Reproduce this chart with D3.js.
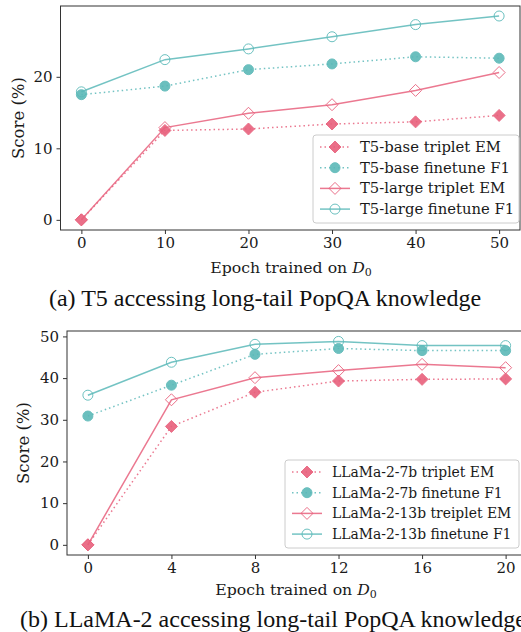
<!DOCTYPE html>
<html>
<head>
<meta charset="utf-8">
<script src="https://cdn.jsdelivr.net/npm/d3@7"></script>
<style>
  body { margin: 0; background: #fff; }
  svg { display: block; }
</style>
</head>
<body>
<div id="chart"></div>
<script>
// 数据: 上图 T5
const t5Epochs = [0, 10, 20, 30, 40, 50];
const t5BaseEM = [0, 12.5, 12.7, 13.4, 13.7, 14.6];
const t5BaseF1 = [17.5, 18.7, 21.0, 21.8, 22.8, 22.6];
const t5LargeEM = [0, 12.9, 14.9, 16.1, 18.1, 20.6];
const t5LargeF1 = [17.9, 22.4, 23.9, 25.6, 27.3, 28.5];
const t5Ticks = [0, 10, 20];
const t5Names = ['T5-base triplet EM', 'T5-base finetune F1', 'T5-large triplet EM', 'T5-large finetune F1'];

// 数据: 下图 LLaMA-2
const llEpochs = [0, 4, 8, 12, 16, 20];
const ll7EM = [0, 28.4, 36.6, 39.3, 39.7, 39.8];
const ll7F1 = [30.9, 38.3, 45.7, 47.1, 46.6, 46.6];
const ll13EM = [0, 34.8, 40.1, 41.8, 43.3, 42.5];
const ll13F1 = [35.9, 43.8, 48.1, 48.8, 47.8, 47.8];
const llTicks = [0, 10, 20, 30, 40, 50];
const llNames = ['LLaMa-2-7b triplet EM', 'LLaMa-2-7b finetune F1', 'LLaMa-2-13b treiplet EM', 'LLaMa-2-13b finetune F1'];

const PINK = '#e8607c';
const TEAL = '#5bb9b8';
const SERIF = '"DejaVu Serif", serif';

const svg = d3.select('#chart').append('svg')
  .attr('width', 521).attr('height', 632);

// 四条线的样式
const styles = [
  {color: PINK, dash: '1.5,3', marker: 'diamond', filled: true},
  {color: TEAL, dash: '1.5,3', marker: 'circle', filled: true},
  {color: PINK, dash: null, marker: 'diamond', filled: false},
  {color: TEAL, dash: null, marker: 'circle', filled: false}
];

const drawMarker = (g, st, x, y) => {
  if (st.marker === 'circle') {
    g.append('circle')
      .attr('cx', x).attr('cy', y).attr('r', 5)
      .attr('fill', st.filled ? st.color : 'none')
      .attr('stroke', st.color).attr('stroke-width', 1)
      .attr('opacity', 0.9);
  } else {
    const s = 6;
    g.append('path')
      .attr('d', `M${x},${y - s}L${x + s},${y}L${x},${y + s}L${x - s},${y}Z`)
      .attr('fill', st.filled ? st.color : 'none')
      .attr('stroke', st.color).attr('stroke-width', 1)
      .attr('opacity', 0.9);
  }
};

const drawPanel = (cfg) => {
  const g = svg.append('g');
  const x = d3.scaleLinear().domain(cfg.xDomain).range([cfg.left, cfg.right]);
  const y = d3.scaleLinear().domain(cfg.yDomain).range([cfg.bottom, cfg.top]);

  // 线和点
  cfg.series.forEach((vals, i) => {
    const st = styles[i];
    const line = d3.line().x((d, j) => x(cfg.epochs[j])).y(d => y(d));
    g.append('path')
      .attr('d', line(vals))
      .attr('fill', 'none')
      .attr('stroke', st.color)
      .attr('stroke-width', 1.5)
      .attr('stroke-opacity', 0.85)
      .attr('stroke-dasharray', st.dash);
    vals.forEach((v, j) => drawMarker(g, st, x(cfg.epochs[j]), y(v)));
  });

  // 坐标轴
  const xAxis = g.append('g')
    .attr('transform', `translate(0,${cfg.bottom})`)
    .call(d3.axisBottom(x).tickValues(cfg.epochs).tickSize(4).tickPadding(3));
  const yAxis = g.append('g')
    .attr('transform', `translate(${cfg.left},0)`)
    .call(d3.axisLeft(y).tickValues(cfg.yTicks).tickSize(4).tickPadding(4));
  [xAxis, yAxis].forEach(a => {
    a.select('.domain').remove();
    a.selectAll('text').attr('font-family', SERIF).attr('font-size', 15).attr('fill', '#1a1a1a');
    a.selectAll('line').attr('stroke', '#333');
  });

  // 边框
  g.append('rect')
    .attr('x', cfg.left).attr('y', cfg.top)
    .attr('width', cfg.right - cfg.left).attr('height', cfg.bottom - cfg.top)
    .attr('fill', 'none').attr('stroke', '#333').attr('stroke-width', 1);

  // 轴标题
  g.append('text')
    .attr('transform', `translate(${cfg.yLabelX},${(cfg.top + cfg.bottom) / 2}) rotate(-90)`)
    .attr('text-anchor', 'middle')
    .attr('font-family', SERIF).attr('font-size', 16.5).attr('fill', '#1a1a1a')
    .text('Score (%)');
  const xl = g.append('text')
    .attr('x', cfg.xLabelX).attr('y', cfg.xLabelY)
    .attr('text-anchor', 'middle')
    .attr('font-family', SERIF).attr('font-size', 15.7).attr('fill', '#1a1a1a');
  xl.append('tspan').text('Epoch trained on ');
  xl.append('tspan').attr('font-style', 'italic').text('D');
  xl.append('tspan').attr('font-size', 11).attr('dy', 3).text('0');

  // 图例
  const lg = g.append('g');
  lg.append('rect')
    .attr('x', cfg.legend.x).attr('y', cfg.legend.y)
    .attr('width', cfg.legend.w).attr('height', cfg.legend.h)
    .attr('rx', 3)
    .attr('fill', '#fff').attr('fill-opacity', 0.85)
    .attr('stroke', '#ccc').attr('stroke-width', 1);
  cfg.names.forEach((name, i) => {
    const st = styles[i];
    const yy = cfg.legend.y + 12 + i * 20.7;
    const x0 = cfg.legend.x + 7;
    lg.append('line')
      .attr('x1', x0).attr('x2', x0 + 30)
      .attr('y1', yy).attr('y2', yy)
      .attr('stroke', st.color).attr('stroke-width', 1.5)
      .attr('stroke-opacity', 0.85)
      .attr('stroke-dasharray', st.dash);
    drawMarker(lg, st, x0 + 15, yy);
    lg.append('text')
      .attr('x', x0 + 40).attr('y', yy + 5)
      .attr('font-family', SERIF).attr('font-size', cfg.legend.fs).attr('fill', '#1a1a1a')
      .text(name);
  });

  // 子图标题
  svg.append('text')
    .attr('x', cfg.capX).attr('y', cfg.capY)
    .attr('text-anchor', cfg.capAnchor)
    .attr('font-family', '"Liberation Serif", "Times New Roman", serif')
    .attr('font-size', 24).attr('fill', '#111')
    .text(cfg.caption);
};

drawPanel({
  epochs: t5Epochs,
  series: [t5BaseEM, t5BaseF1, t5LargeEM, t5LargeF1],
  names: t5Names,
  xDomain: [-2.5, 52.5], yDomain: [-1.42, 29.9],
  yTicks: t5Ticks,
  left: 60.5, right: 520, top: 6, bottom: 230,
  yLabelX: 24, xLabelX: 291, xLabelY: 273,
  legend: {x: 313, y: 135, w: 206, h: 88, fs: 14.8},
  caption: '(a) T5 accessing long-tail PopQA knowledge',
  capX: 265, capY: 306, capAnchor: 'middle'
});

drawPanel({
  epochs: llEpochs,
  series: [ll7EM, ll7F1, ll13EM, ll13F1],
  names: llNames,
  xDomain: [-1, 21], yDomain: [-2.44, 51.3],
  yTicks: llTicks,
  left: 67, right: 526.5, top: 331, bottom: 555,
  yLabelX: 29, xLabelX: 296, xLabelY: 595,
  legend: {x: 285, y: 460, w: 234, h: 88, fs: 13.9},
  caption: '(b) LLaMA-2 accessing long-tail PopQA knowledge',
  capX: 20, capY: 627, capAnchor: 'start'
});
</script>
</body>
</html>
